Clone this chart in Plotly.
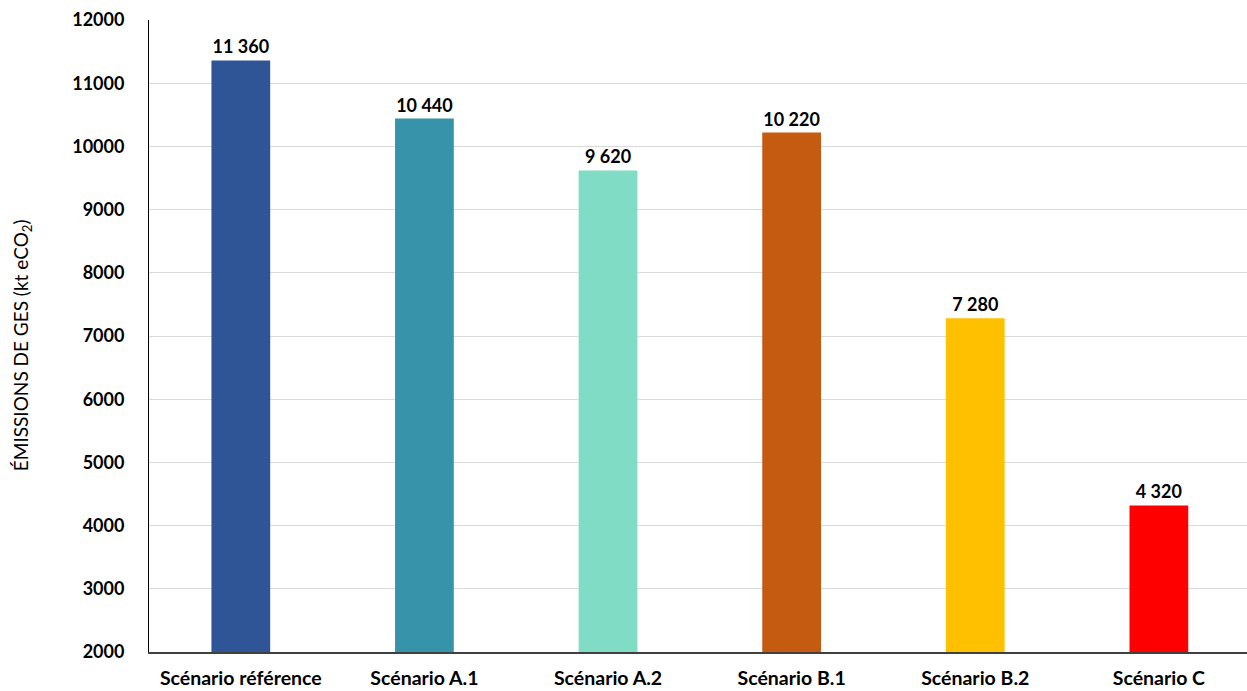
import plotly.graph_objects as go

# Émissions de GES par scénario (kt eCO2)
scenarios = ["Scénario référence", "Scénario A.1", "Scénario A.2",
             "Scénario B.1", "Scénario B.2", "Scénario C"]
emissions = [11360, 10440, 9620, 10220, 7280, 4320]
bar_colors = ["#2F5597", "#3793A9", "#80DCC4", "#C55A11", "#FFC000", "#FF0000"]
y_ticks = [2000, 3000, 4000, 5000, 6000, 7000, 8000, 9000, 10000, 11000, 12000]


def fmt_fr(v):
    # séparateur de milliers à la française (espace)
    return f"{v:,}".replace(",", " ")


fig = go.Figure(
    go.Bar(
        x=scenarios,
        y=emissions,
        marker=dict(color=bar_colors, line=dict(width=0)),
        width=0.32,
        text=[fmt_fr(v) for v in emissions],
        textposition="outside",
        cliponaxis=False,
        textfont=dict(family="Lato", size=18, color="#000000", weight="bold"),
    )
)

fig.update_layout(
    width=1247,
    height=691,
    margin=dict(l=149, r=0, t=20, b=39),
    paper_bgcolor="white",
    plot_bgcolor="white",
    showlegend=False,
    font=dict(family="Lato", color="#000000"),
    xaxis=dict(
        range=[-0.5, 5.48],
        automargin=False,
        showgrid=False,
        showline=True,
        linecolor="#404040",
        linewidth=1.5,
        ticks="",
        ticklabelstandoff=8,
        tickfont=dict(family="Lato", size=19.5, color="#000000", weight="bold"),
    ),
    yaxis=dict(
        range=[2000, 12000],
        automargin=False,
        tickvals=y_ticks,
        ticktext=[str(v) for v in y_ticks],
        showgrid=True,
        gridcolor="#D9D9D9",
        gridwidth=1,
        showline=True,
        linecolor="#000000",
        linewidth=1,
        ticks="",
        ticklabelstandoff=20,
        zeroline=False,
        tickfont=dict(family="Lato", size=18, color="#000000", weight="bold"),
    ),
    annotations=[
        dict(
            text="ÉMISSIONS DE GES (kt eCO<sub>2</sub>)",
            xref="paper", yref="paper",
            x=-0.115, y=0.485,
            xanchor="center", yanchor="middle",
            textangle=-90,
            showarrow=False,
            font=dict(family="Lato", size=19, color="#000000"),
        )
    ],
)

fig.write_html("out.html")
